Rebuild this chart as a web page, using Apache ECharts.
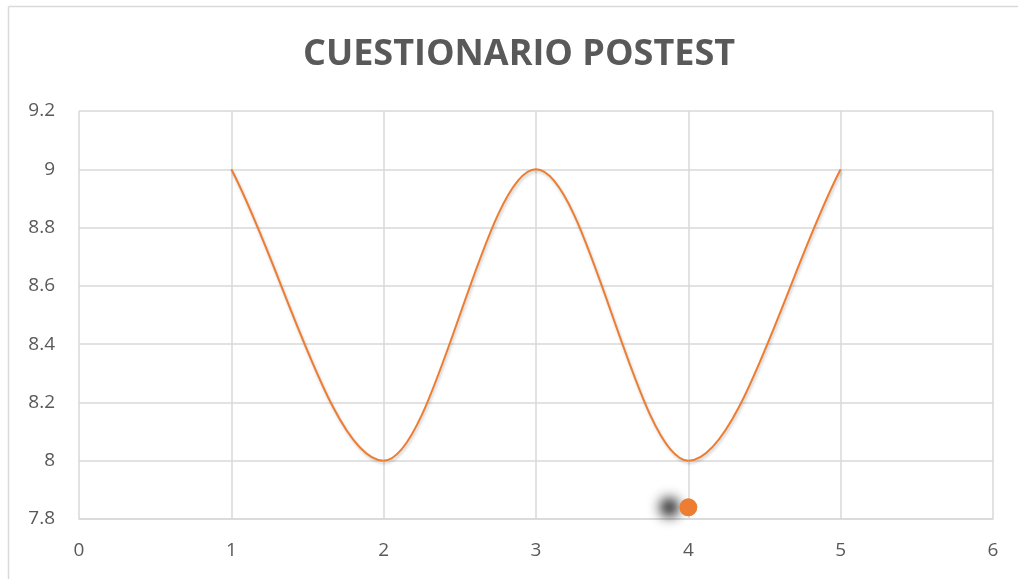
<!DOCTYPE html>
<html>
<head>
<meta charset="utf-8">
<script src="https://cdn.jsdelivr.net/npm/echarts@6/dist/echarts.min.js"></script>
<style>html,body{margin:0;padding:0;background:#fff;}#c{width:1018px;height:579px;}</style>
</head>
<body>
<div id="c"></div>
<script>
const titleText = 'CUESTIONARIO POSTEST';
const xValues = [1, 2, 3, 4, 5];
const yValues = [9, 8, 9, 8, 9];
const markerX = [4];
const markerY = [7.84];

const chart = echarts.init(document.getElementById('c'));
const fmt = v => String(Math.round(v * 10) / 10);

// Excel-style smoothed segment between point i and i+1, using axis coordinates
function renderSegment(params, api) {
  const i = params.dataIndex;
  const n = xValues.length;
  if (i >= n - 1) return null;
  const P = k => api.coord([xValues[k], yValues[k]]);
  const p0 = P(i), p1 = P(i + 1);
  let c1, c2;
  if (i > 0) {
    const pm = P(i - 1);
    c1 = [p0[0] + (p1[0] - pm[0]) / 6, p0[1] + (p1[1] - pm[1]) / 6];
  } else {
    c1 = [p0[0] + (p1[0] - p0[0]) / 3, p0[1] + (p1[1] - p0[1]) / 3];
  }
  if (i + 2 < n) {
    const pn = P(i + 2);
    c2 = [p1[0] - (pn[0] - p0[0]) / 6, p1[1] - (pn[1] - p0[1]) / 6];
  } else {
    c2 = [p1[0] - (p1[0] - p0[0]) / 3, p1[1] - (p1[1] - p0[1]) / 3];
  }
  return {
    type: 'bezierCurve',
    shape: { x1: p0[0], y1: p0[1], x2: p1[0], y2: p1[1], cpx1: c1[0], cpy1: c1[1], cpx2: c2[0], cpy2: c2[1] },
    style: { stroke: '#ED7D31', lineWidth: 2, fill: null, shadowColor: 'rgba(0,0,0,0.22)', shadowBlur: 3, shadowOffsetY: 2, shadowOffsetX: 1 }
  };
}

chart.setOption({
  animation: false,
  backgroundColor: '#fff',
  title: {
    text: titleText,
    left: 298,
    top: 32,
    textStyle: { fontFamily: 'Open Sans', fontWeight: 'bold', fontSize: 36, color: '#595959' }
  },
  graphic: [
    { type: 'line', shape: { x1: 8.5, y1: 6.5, x2: 1018, y2: 6.5 }, style: { stroke: '#d9d9d9', lineWidth: 1.5 } },
    { type: 'line', shape: { x1: 8.5, y1: 6.5, x2: 8.5, y2: 579 }, style: { stroke: '#d9d9d9', lineWidth: 1.5 } }
  ],
  grid: { left: 79, right: 25, top: 111, bottom: 60, containLabel: false },
  xAxis: {
    type: 'value', min: 0, max: 6, interval: 1,
    axisLine: { show: true, lineStyle: { color: '#d9d9d9', width: 1.5 } },
    axisTick: { show: false },
    axisLabel: { color: '#595959', fontSize: 19, fontFamily: 'Open Sans', margin: 22, formatter: fmt },
    splitLine: { show: true, lineStyle: { color: '#d9d9d9', width: 1.5 } }
  },
  yAxis: {
    type: 'value', min: 7.8, max: 9.2, interval: 0.2,
    axisLine: { show: false },
    axisTick: { show: false },
    axisLabel: { color: '#595959', fontSize: 19, fontFamily: 'Open Sans', margin: 24, formatter: fmt },
    splitLine: { show: true, lineStyle: { color: '#d9d9d9', width: 1.5 } }
  },
  series: [
    {
      type: 'custom',
      renderItem: renderSegment,
      data: xValues.map((x, i) => [x, yValues[i]]),
      encode: { x: 0, y: 1 },
      clip: false
    },
    {
      type: 'scatter', symbolSize: 18,
      data: markerX.map((x, i) => [x, markerY[i]]),
      itemStyle: { color: '#ED7D31', opacity: 1, shadowColor: 'rgba(0,0,0,1)', shadowBlur: 13, shadowOffsetX: -19 }
    }
  ]
});
</script>
</body>
</html>
